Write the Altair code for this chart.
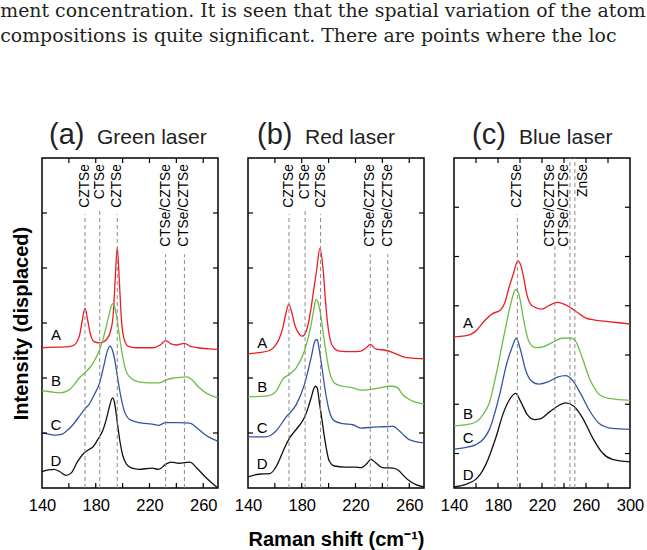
import altair as alt
import pandas as pd

# ---------------- text above the figure ----------------
PARA_LINE1 = "ment concentration. It is seen that the spatial variation of the atom"
PARA_LINE2 = "compositions is quite significant. There are points where the loc"

SERIES = ["A", "B", "C", "D"]
COLORS = ["#ee1c25", "#6cbd45", "#3354a5", "#111111"]

# ---------------- panel (a) Green laser ----------------
A_A_X = [140, 150, 160, 164, 166, 168, 170, 172, 174, 176, 178, 180, 183, 186, 188, 191, 193, 194.5, 196, 197.5, 199, 201, 204, 210, 222, 228, 232, 236, 240, 246, 250, 256, 264, 271]
A_A_Y = [2.55, 2.56, 2.57, 2.60, 2.66, 2.78, 3.05, 3.27, 3.05, 2.80, 2.68, 2.65, 2.64, 2.66, 2.70, 2.85, 3.15, 3.80, 4.37, 3.80, 3.10, 2.72, 2.58, 2.55, 2.55, 2.60, 2.68, 2.62, 2.60, 2.63, 2.58, 2.55, 2.53, 2.52]
A_B_X = [140, 146, 153, 160, 164, 168, 172, 176, 180, 183, 185, 188, 190, 192.5, 194, 196, 198, 200, 202.5, 207, 212, 220, 227, 232, 238, 242, 248, 252, 256, 262, 271]
A_B_Y = [1.77, 1.75, 1.73, 1.78, 1.88, 2.01, 2.10, 2.20, 2.36, 2.52, 2.67, 2.95, 3.16, 3.35, 3.30, 3.05, 2.70, 2.40, 2.13, 1.98, 1.93, 1.91, 1.91, 1.96, 2.00, 2.01, 2.02, 1.96, 1.85, 1.73, 1.64]
A_C_X = [140, 145, 150, 155, 158, 163, 168, 172, 175, 179, 183, 186, 188.5, 190.6, 192.5, 194, 196, 198, 201, 205, 212, 222, 227, 232, 242, 250, 255, 262, 271]
A_C_Y = [1.00, 0.98, 0.96, 0.98, 1.03, 1.15, 1.31, 1.44, 1.52, 1.70, 1.92, 2.22, 2.48, 2.58, 2.50, 2.35, 2.05, 1.75, 1.42, 1.25, 1.19, 1.16, 1.14, 1.19, 1.19, 1.18, 1.10, 0.96, 0.85]
A_D_X = [140, 145, 149, 153, 158, 162, 166, 171.5, 175, 178, 182, 185, 188, 190, 192.5, 194, 196, 198, 200, 203, 207, 212, 222, 227, 232, 236, 242, 250, 255, 262, 266, 271]
A_D_Y = [0.30, 0.33, 0.34, 0.30, 0.23, 0.28, 0.46, 0.64, 0.70, 0.75, 0.90, 1.03, 1.26, 1.46, 1.64, 1.55, 1.20, 0.85, 0.60, 0.43, 0.36, 0.34, 0.36, 0.34, 0.43, 0.47, 0.45, 0.47, 0.37, 0.19, 0.10, 0.00]
A_REF_X = [172, 183, 196, 232, 246]
A_REF_TOP = [4.98, 5.09, 4.98, 4.25, 4.25]
A_REF_LABEL = ["CZTSe", "CTSe", "CZTSe", "CTSe/CZTSe", "CTSe/CZTSe"]
A_LETTER_X = [150.4, 150.4, 150.4, 150.4]
A_LETTER_Y = [2.79, 1.95, 1.15, 0.50]

# ---------------- panel (b) Red laser ----------------
B_A_X = [140, 148, 156, 160, 163, 166, 168, 170.3, 172.5, 175, 177.5, 180.2, 183, 185, 187, 189, 191, 193.6, 196, 198, 200, 203, 208, 218, 224, 228, 231, 235, 243, 248, 255, 262, 271]
B_A_Y = [2.44, 2.46, 2.50, 2.58, 2.70, 2.92, 3.15, 3.34, 3.20, 2.95, 2.82, 2.76, 2.83, 3.00, 3.28, 3.62, 3.95, 4.36, 3.95, 3.30, 2.85, 2.58, 2.49, 2.48, 2.49, 2.55, 2.61, 2.53, 2.50, 2.46, 2.39, 2.36, 2.35]
B_B_X = [140, 153, 158, 161, 166, 171, 176, 182, 187, 189, 190.6, 192, 193.6, 196.8, 200.5, 204.3, 210.5, 218, 224, 230, 238, 245, 248, 251.5, 255, 262.5, 271]
B_B_Y = [1.66, 1.67, 1.70, 1.76, 1.98, 2.07, 2.19, 2.49, 2.97, 3.25, 3.43, 3.38, 3.22, 2.67, 2.13, 1.91, 1.85, 1.82, 1.78, 1.79, 1.82, 1.85, 1.85, 1.82, 1.70, 1.58, 1.53]
B_C_X = [140, 153, 157, 161, 168, 176, 182, 187, 190, 191.5, 193, 195, 197, 200.5, 204.3, 210.5, 218, 224, 230, 238, 248, 252.6, 256, 260, 271]
B_C_Y = [0.93, 0.93, 0.96, 1.04, 1.28, 1.52, 1.88, 2.37, 2.68, 2.70, 2.52, 2.20, 1.85, 1.40, 1.22, 1.17, 1.15, 1.09, 1.10, 1.11, 1.12, 1.04, 0.96, 0.88, 0.82]
B_D_X = [140, 148, 156, 160, 163, 167, 171, 177, 182, 185, 187, 190, 191.5, 193, 195, 197, 200.5, 204.3, 212, 220, 224, 228, 231.5, 235, 240, 248, 252.6, 256, 260, 265, 271]
B_D_Y = [0.20, 0.25, 0.26, 0.35, 0.49, 0.72, 0.91, 1.10, 1.28, 1.48, 1.64, 1.85, 1.82, 1.58, 1.25, 0.91, 0.49, 0.40, 0.38, 0.38, 0.37, 0.43, 0.52, 0.46, 0.37, 0.36, 0.31, 0.22, 0.13, 0.06, 0.02]
B_REF_X = [170.5, 182.5, 194, 231, 244]
B_REF_TOP = [4.98, 5.09, 4.98, 4.25, 4.25]
B_REF_LABEL = ["CZTSe", "CTSe", "CZTSe", "CTSe/CZTSe", "CTSe/CZTSe"]
B_LETTER_X = [150.6, 150.6, 150.6, 150.6]
B_LETTER_Y = [2.64, 1.84, 1.10, 0.43]

# ---------------- panel (c) Blue laser ----------------
C_A_X = [140, 150, 160, 168, 175, 182, 186, 190, 194, 198, 201, 203.5, 206, 211, 220, 226, 234, 243, 250, 260, 268, 280, 300]
C_A_Y = [2.37, 2.39, 2.49, 2.70, 2.84, 2.91, 3.05, 3.37, 3.65, 3.91, 3.80, 3.55, 3.25, 3.00, 2.93, 3.00, 3.07, 3.00, 2.90, 2.75, 2.71, 2.68, 2.63]
C_B_X = [140, 150, 160, 166, 172, 179, 185, 191.5, 196, 199, 203.5, 208, 214, 220, 229, 238, 246, 250.5, 256.7, 263, 268, 272, 281, 300]
C_B_Y = [0.56, 0.58, 0.64, 0.78, 1.02, 1.68, 2.35, 3.03, 3.33, 3.23, 2.69, 2.28, 2.15, 2.16, 2.25, 2.34, 2.35, 2.28, 1.94, 1.53, 1.32, 1.20, 1.12, 1.08]
C_C_X = [140, 150, 160, 167, 172, 181, 188, 193, 196.6, 200.5, 205, 211, 217, 226, 234, 241.5, 247.6, 255, 263, 272, 284, 300]
C_C_Y = [0.09, 0.12, 0.18, 0.30, 0.48, 1.15, 1.83, 2.17, 2.34, 2.10, 1.70, 1.46, 1.41, 1.46, 1.55, 1.58, 1.49, 1.22, 0.88, 0.61, 0.51, 0.49]
C_D_X = [140, 150, 160, 164, 169, 178, 185, 191.5, 196, 200.5, 206.6, 213, 219, 226, 234, 241.5, 249, 256.7, 266, 275, 284, 300]
C_D_Y = [-0.68, -0.63, -0.52, -0.42, -0.22, 0.32, 0.83, 1.13, 1.22, 1.06, 0.79, 0.69, 0.71, 0.83, 0.96, 1.03, 0.96, 0.73, 0.32, 0.01, -0.12, -0.17]
C_REF_X = [197.6, 231.7, 245.4, 249.9]
C_REF_TOP = [4.86, 4.21, 6.0, 6.0]
C_LABEL_X = [197.6, 227.2, 240.2, 257.6]
C_LABEL = ["CZTSe", "CTSe/CZTSe", "CTSe/CZTSe", "ZnSe"]
C_LETTER_X = [152.8, 152.8, 152.8, 152.8]
C_LETTER_Y = [2.64, 0.81, 0.31, -0.44]

AB_XTICKS = [160, 180, 200, 220, 240, 260]
AB_XLABELS = [140, 180, 220, 260]
AB_YTICKS = [1, 2, 3, 4, 5]
C_XTICKS = [160, 180, 200, 220, 240, 260, 280]
C_XLABELS = [140, 180, 220, 260, 300]
C_YTICKS = [0, 1, 2, 3, 4, 5]

FONT = "Liberation Sans"
W, H = 176, 330
TICK = 5


def curves_df(xs, ys):
    rows = []
    for s, xv, yv in zip(SERIES, xs, ys):
        for i, (a, b) in enumerate(zip(xv, yv)):
            rows.append({"x": a, "y": b, "series": s, "i": i})
    return pd.DataFrame(rows)


def panel(xs, ys, xdom, ydom, ref_x, ref_top, label_x, labels, letter_x, letter_y,
          xticks, yticks, xlabels, paren, name, paren_x, name_x, xtitle=None, ytitle=None):
    sx = alt.Scale(domain=xdom, nice=False, zero=False)
    sy = alt.Scale(domain=ydom, nice=False, zero=False)

    xaxis = alt.Axis(values=xlabels, format="d", ticks=False, tickSize=0, domain=False, grid=False,
                     labelFont=FONT, labelFontSize=16.5, labelColor="black", labelPadding=9,
                     labelFlush=False, labelOverlap=False,
                     title=xtitle if xtitle else "", titleFont=FONT, titleFontSize=20,
                     titleFontWeight="bold", titleColor="black", titlePadding=16)
    if ytitle:
        yaxis = alt.Axis(labels=False, ticks=False, tickSize=0, domain=False, grid=False,
                         title=ytitle, titleFont=FONT, titleFontSize=20, titleFontWeight="bold",
                         titleColor="black", titlePadding=11)
    else:
        yaxis = None

    def X(field):
        return alt.X(field, scale=sx, axis=xaxis)

    def Y(field):
        return alt.Y(field, scale=sy, axis=yaxis)

    cdf = curves_df(xs, ys)
    lines = alt.Chart(cdf).mark_line(interpolate="monotone", strokeWidth=1.3, clip=True).encode(
        x=X("x:Q"),
        y=Y("y:Q"),
        color=alt.Color("series:N", scale=alt.Scale(domain=SERIES, range=COLORS), legend=None),
        detail="series:N",
        order="i:Q",
    )

    refdf = pd.DataFrame({"x": ref_x, "y0": [ydom[0]] * len(ref_x), "y1": ref_top})
    refs = alt.Chart(refdf).mark_rule(strokeDash=[4, 3], color="#8a8a8a", strokeWidth=1).encode(
        x=X("x:Q"),
        y=Y("y0:Q"),
        y2="y1:Q",
    )

    labdf = pd.DataFrame({"x": label_x, "y": [ydom[1]] * len(label_x), "t": labels})
    labs = alt.Chart(labdf).mark_text(angle=270, align="right", baseline="middle", dx=-6,
                                      fontSize=13.8, font=FONT, color="black").encode(
        x=X("x:Q"),
        y=Y("y:Q"),
        text="t:N",
    )

    letdf = pd.DataFrame({"x": letter_x, "y": letter_y, "t": SERIES})
    lets = alt.Chart(letdf).mark_text(align="center", baseline="middle", fontSize=15,
                                      font=FONT, color="black").encode(
        x=X("x:Q"),
        y=Y("y:Q"),
        text="t:N",
    )

    xt = pd.DataFrame({"x": xticks})
    yt = pd.DataFrame({"y": yticks})
    tb = alt.Chart(xt).mark_rule(color="black", strokeWidth=1.2).encode(
        x=X("x:Q"), y=alt.value(H), y2=alt.value(H - TICK))
    tt = alt.Chart(xt).mark_rule(color="black", strokeWidth=1.2).encode(
        x=X("x:Q"), y=alt.value(0), y2=alt.value(TICK))
    tl = alt.Chart(yt).mark_rule(color="black", strokeWidth=1.2).encode(
        y=Y("y:Q"), x=alt.value(0), x2=alt.value(TICK))
    tr = alt.Chart(yt).mark_rule(color="black", strokeWidth=1.2).encode(
        y=Y("y:Q"), x=alt.value(W), x2=alt.value(W - TICK))

    p1 = alt.Chart(pd.DataFrame({"t": [paren]})).mark_text(
        align="left", baseline="alphabetic", fontSize=29, font=FONT, color="#222222").encode(
        text="t:N", x=alt.value(paren_x), y=alt.value(-14))
    p2 = alt.Chart(pd.DataFrame({"t": [name]})).mark_text(
        align="left", baseline="alphabetic", fontSize=21, font=FONT, color="#222222").encode(
        text="t:N", x=alt.value(name_x), y=alt.value(-14))

    return alt.layer(lines, refs, labs, lets, tb, tt, tl, tr, p1, p2).properties(width=W, height=H)


pa = panel([A_A_X, A_B_X, A_C_X, A_D_X], [A_A_Y, A_B_Y, A_C_Y, A_D_Y], [140, 271], [0, 6],
           A_REF_X, A_REF_TOP, A_REF_X, A_REF_LABEL, A_LETTER_X, A_LETTER_Y,
           AB_XTICKS, AB_YTICKS, AB_XLABELS, "(a)", "Green laser", 7, 55,
           ytitle="Intensity (displaced)")
pb = panel([B_A_X, B_B_X, B_C_X, B_D_X], [B_A_Y, B_B_Y, B_C_Y, B_D_Y], [140, 271], [0, 6],
           B_REF_X, B_REF_TOP, B_REF_X, B_REF_LABEL, B_LETTER_X, B_LETTER_Y,
           AB_XTICKS, AB_YTICKS, AB_XLABELS, "(b)", "Red laser", 9, 57,
           xtitle="Raman shift (cm\u207b\u00b9)")
pc = panel([C_A_X, C_B_X, C_C_X, C_D_X], [C_A_Y, C_B_Y, C_C_Y, C_D_Y], [140, 300], [-0.7, 6],
           C_REF_X, C_REF_TOP, C_LABEL_X, C_LABEL, C_LETTER_X, C_LETTER_Y,
           C_XTICKS, C_YTICKS, C_XLABELS, "(c)", "Blue laser", 18, 65)

chart = alt.hconcat(pa, pb, pc, spacing=30, bounds="flush").properties(
    title=alt.TitleParams(text=[PARA_LINE1, PARA_LINE2], anchor="start", frame="bounds",
                          font="DejaVu Serif", fontSize=18.9, fontWeight="normal",
                          color="#231f20", lineHeight=25, offset=74, dx=-10),
    padding={"left": 0, "top": 2, "right": 0, "bottom": 0},
).configure_view(stroke="black", strokeWidth=1.5).configure_axis(grid=False)

chart.save("out.html", embed_options={"renderer": "svg", "actions": False})
